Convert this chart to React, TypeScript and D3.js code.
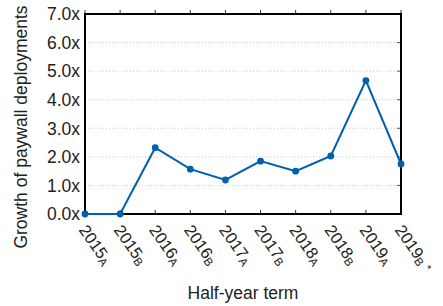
import React from 'react';
import * as d3 from 'd3';

const terms = ['2015A', '2015B', '2016A', '2016B', '2017A', '2017B', '2018A', '2018B', '2019A', '2019B'];
const growth = [0, 0, 2.32, 1.57, 1.19, 1.85, 1.5, 2.03, 4.67, 1.75];
const yTicks = [0, 1, 2, 3, 4, 5, 6, 7];
const markedTerms = ['2019B'];

const W = 443;
const H = 306;
const m = { top: 14, right: 42, bottom: 92, left: 85 };
const font = '"Liberation Sans", Arial, Helvetica, sans-serif';
const lineColor = '#0060ad';

export default function App() {
  const x = d3.scaleLinear().domain([0, terms.length - 1]).range([m.left, W - m.right]);
  const y = d3.scaleLinear().domain([0, 7]).range([H - m.bottom, m.top]);
  const path = d3.line<number>()
    .x((_, i) => x(i))
    .y(d => y(d))(growth) || '';

  const x0 = m.left, x1 = W - m.right, y0 = H - m.bottom, y1 = m.top;

  return (
    <svg width={W} height={H} style={{ position: 'absolute', left: 0, top: 0, fontFamily: font }}>
      <rect width={W} height={H} fill="#fff" />

      {/* dotted grid */}
      {yTicks.slice(1, -1).map(t => (
        <line key={t} x1={x0} x2={x1} y1={y(t)} y2={y(t)} stroke="#c8c8c8" strokeWidth={1} strokeDasharray="1,2" />
      ))}

      {/* y ticks on right, inward */}
      {yTicks.map(t => (
        <line key={t} x1={x1} x2={x1 - 4} y1={y(t)} y2={y(t)} stroke="#555" strokeWidth={1} />
      ))}
      {/* x ticks top (outward) and bottom (inward) */}
      {terms.map((_, i) => (
        <g key={i}>
          <line x1={x(i)} x2={x(i)} y1={y1} y2={y1 - 4} stroke="#333" strokeWidth={1} />
          <line x1={x(i)} x2={x(i)} y1={y0} y2={y0 - 4} stroke="#333" strokeWidth={1} />
        </g>
      ))}

      {/* frame */}
      <rect x={x0} y={y1} width={x1 - x0} height={y0 - y1} fill="none" stroke="#000" strokeWidth={2} />

      {/* y tick labels */}
      {yTicks.map(t => (
        <text key={t} x={x0 - 5} y={y(t)} dy="0.36em" textAnchor="end" fontSize={17.5} fill="#222">
          {t.toFixed(1)}x
        </text>
      ))}

      {/* x tick labels */}
      {terms.map((t, i) => (
        <text key={t} transform={`translate(${x(i) + 3},${y0 + 9}) rotate(55)`} fontSize={16.5} fill="#222" dominantBaseline="hanging">
          {t.slice(0, 4)}
          <tspan fontSize={11.5} dy={6}>{t.slice(4)}</tspan>
          {markedTerms.includes(t) && <tspan fontSize={11} dy={-4} dx={4}>*</tspan>}
        </text>
      ))}

      {/* series */}
      <path d={path} fill="none" stroke={lineColor} strokeWidth={2} />
      {growth.map((v, i) => (
        <circle key={i} cx={x(i)} cy={y(v)} r={3.4} fill={lineColor} />
      ))}

      {/* axis titles */}
      <text transform={`translate(27,127) rotate(-90)`} textAnchor="middle" fontSize={17.5} fill="#222">
        Growth of paywall deployments
      </text>
      <text x={(x0 + x1) / 2} y={299} textAnchor="middle" fontSize={17.5} fill="#222">
        Half-year term
      </text>
    </svg>
  );
}
